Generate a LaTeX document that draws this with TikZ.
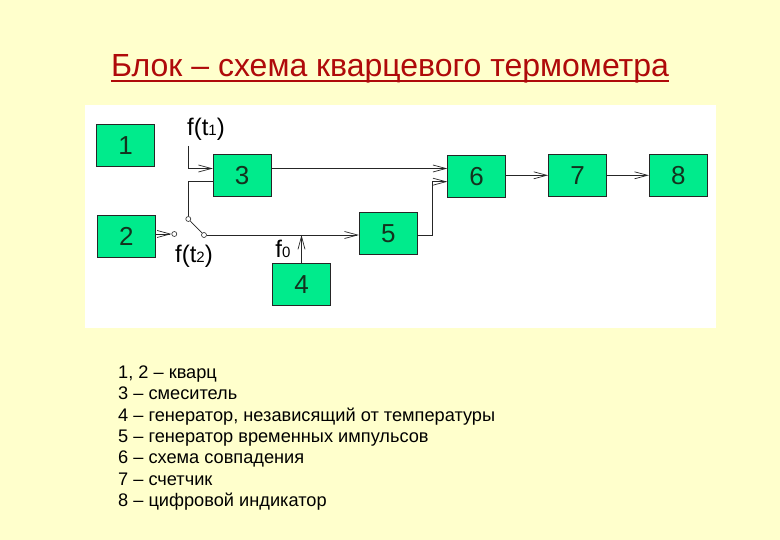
\documentclass[tikz,border=0pt]{standalone}
\usepackage{fontspec}
\setmainfont{Liberation Sans}
\usetikzlibrary{arrows.meta}
\definecolor{bg}{RGB}{255,255,204}
\definecolor{boxg}{RGB}{0,235,140}
\definecolor{ttl}{RGB}{175,10,10}
\definecolor{dig}{RGB}{20,50,30}
\begin{document}
\begin{tikzpicture}[x=1pt,y=-1pt,
 blk/.style={draw=black!85, fill=boxg, minimum width=58pt, minimum height=42pt, inner sep=0pt, font=\fontsize{26}{28}\selectfont, text=dig, line width=0.8pt},
 conn/.style={line width=0.7pt, draw=black!85},
 arr/.style={conn,-{Straight Barb[length=13pt,width=7pt]}},
 sw/.style={circle, draw=black!85, fill=white, minimum size=5pt, inner sep=0pt, line width=0.6pt},
 lbl/.style={font=\fontsize{24}{26}\selectfont, inner sep=0pt},
 leg/.style={font=\fontsize{18.2}{20}\selectfont, anchor=base west, inner sep=0pt}]
\fill[bg] (0,0) rectangle (780,540);
\fill[white] (85,105) rectangle (716,328);
\node[font=\fontsize{32}{34}\selectfont, text=ttl, inner sep=0pt, anchor=base] (title) at (390,76.7) {Блок – схема кварцевого термометра};
\draw[ttl, line width=1.8pt] ([yshift=-4.5pt]title.base west) -- ([yshift=-4.5pt]title.base east);
\node[blk] (b1) at (125.5,145.8) {1};
\node[blk] (b2) at (126.3,236.7) {2};
\node[blk] (b3) at (242.2,175.5) {3};
\node[blk] (b4) at (301.5,284.8) {4};
\node[blk] (b5) at (388.3,233.3) {5};
\node[blk] (b6) at (476.7,176.2) {6};
\node[blk] (b7) at (577.5,175.3) {7};
\node[blk] (b8) at (678.3,175.3) {8};
\node[sw] (s0) at (174.3,234) {};
\node[sw] (s1) at (188.3,219) {};
\node[sw] (s2) at (204,235) {};
\coordinate (t1) at (188.3,146);
\coordinate (c1) at (188.3,168.5);
\coordinate (c2) at (188.3,181.7);
\coordinate (c3) at (432.3,235);
\coordinate (c4) at (432.3,181.7);
\node[lbl] (lt1) at (206,129) {f(t{\fontsize{15}{15}\selectfont 1})};
\node[lbl] (lt2) at (194,256) {f(t{\fontsize{15}{15}\selectfont 2})};
\node[lbl] (lf0) at (283,249) {f{\fontsize{15}{15}\selectfont 0}};
\draw[arr] (t1) -- (c1) -- (c1 -| b3.west);
\draw[arr] (b2.east |- s0) -- (s0.west);
\draw[conn] (s1) -- (s2);
\draw[conn] (s1) -- (c2) -- (c2 -| b3.west);
\draw[arr] (s2) -- (s2 -| b5.west);
\draw[arr] (b4.north) -- (b4.north |- s2);
\draw[arr] (b3.east |- c1) -- (c1 -| b6.west);
\draw[arr] (b5.east |- c3) -- (c3) -- (c4) -- (c4 -| b6.west);
\draw[arr] (b6.east |- b7.west) -- (b7.west);
\draw[arr] (b7.east) -- (b8.west);
\node[leg] (l1) at (118,378.3) {1, 2 – кварц};
\node[leg] (l2) at (118,399.7) {3 – смеситель};
\node[leg] (l3) at (118,421.1) {4 – генератор, независящий от температуры};
\node[leg] (l4) at (118,442.5) {5 – генератор временных импульсов};
\node[leg] (l5) at (118,463.9) {6 – схема совпадения};
\node[leg] (l6) at (118,485.3) {7 – счетчик};
\node[leg] (l7) at (118,506.7) {8 – цифровой индикатор};
\end{tikzpicture}
\end{document}
